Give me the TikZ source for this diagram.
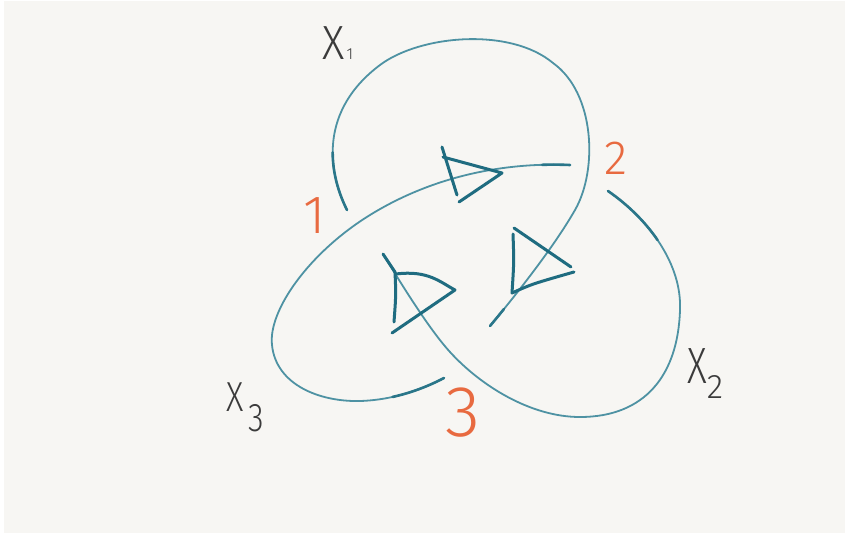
\documentclass[tikz,border=0pt]{standalone}
\usepackage{fontspec}
\IfFontExistsTF{Fira Sans Light}{\setmainfont{Fira Sans Light}}{\setmainfont{Fira Sans}}
\definecolor{bg}{HTML}{F7F6F3}
\definecolor{strand}{HTML}{4E92A3}
\definecolor{strandd}{HTML}{2A7689}
\definecolor{tri}{HTML}{1F6C80}
\definecolor{ink}{HTML}{3B3B3B}
\definecolor{num}{HTML}{E86A40}
\begin{document}
\begin{tikzpicture}[x=1pt,y=-1pt,
  strandline/.style={draw=strand, line width=1.8pt, line cap=round, line join=round},
  strandend/.style={draw=strandd, line width=2.6pt, line cap=round, line join=round, dash pattern=on #1 off 3000pt},
  triline/.style={draw=tri, line width=3pt, line cap=round, line join=round},
  xlbl/.style={text=ink, inner sep=0pt},
  numlbl/.style={text=num, inner sep=0pt}]
\useasboundingbox (0,0) rectangle (847,533);
\fill[white] (0,0) rectangle (847,533);
\fill[bg] (4,1) rectangle (845,533);

% strand A (arc with X1)
\draw[strandline] (347,210) .. controls (327,170) and (320,110) .. (380,65)
  .. controls (420,35) and (510,27) .. (553,63)
  .. controls (595,93) and (598,170) .. (575,210)
  .. controls (555,245) and (520,290) .. (490,326);
\draw[strandend=60pt] (347,210) .. controls (327,170) and (320,110) .. (380,65);
\draw[strandend=22pt] (490,326) .. controls (520,290) and (555,245) .. (575,210);

% strand B
\draw[strandline] (570,165) .. controls (500,162) and (430,178) .. (370,215)
  .. controls (310,252) and (268,310) .. (272,345)
  .. controls (276,385) and (320,402) .. (360,401)
  .. controls (395,400) and (425,388) .. (444,378);
\draw[strandend=55pt] (444,378) .. controls (425,388) and (395,400) .. (360,401);
\draw[strandend=28pt] (570,165) .. controls (500,162) and (430,178) .. (370,215);

% strand C (right lobe)
\draw[strandline] (608,191) .. controls (650,220) and (682,265) .. (680,310)
  .. controls (678,375) and (645,417) .. (580,417)
  .. controls (530,417) and (480,385) .. (450,352)
  .. controls (430,330) and (405,290) .. (383,254);
\draw[strandend=70pt] (608,191) .. controls (650,220) and (682,265) .. (680,310);

% triangles
\draw[triline] (442,147) -- (457,195);
\draw[triline] (443,157) -- (502,173) -- (459,202);

\draw[triline] (383,254) -- (395,272);
\draw[triline] (395,272) .. controls (396,295) .. (394,322);
\draw[triline] (396,274) .. controls (428,270) and (440,282) .. (455,290) -- (392,333);

\draw[triline] (514,228) -- (571,267);
\draw[triline] (513,234) .. controls (514,262) .. (512,293);
\draw[triline] (512,293) .. controls (532,284) .. (574,272);

% labels
\node[xlbl, font=\fontsize{48}{48}\selectfont, xscale=0.9] (x1) at (334,43) {X};
\node[xlbl, font=\fontsize{16}{16}\selectfont] (x1s) at (350,54) {1};
\node[xlbl, font=\fontsize{51}{51}\selectfont, xscale=0.75] (x2) at (697,366) {X};
\node[xlbl, font=\fontsize{34}{34}\selectfont] (x2s) at (715,387) {2};
\node[xlbl, font=\fontsize{42}{42}\selectfont, xscale=0.8] (x3) at (235,397) {X};
\node[xlbl, font=\fontsize{40}{40}\selectfont, xscale=0.8] (x3s) at (256,418) {3};

\node[numlbl, font=\fontsize{54}{54}\selectfont] (n1) at (315,216) {1};
\node[numlbl, font=\fontsize{48}{48}\selectfont] (n2) at (616,158) {2};
\node[numlbl, font=\fontsize{72}{72}\selectfont] (n3) at (463,413) {3};
\end{tikzpicture}
\end{document}
